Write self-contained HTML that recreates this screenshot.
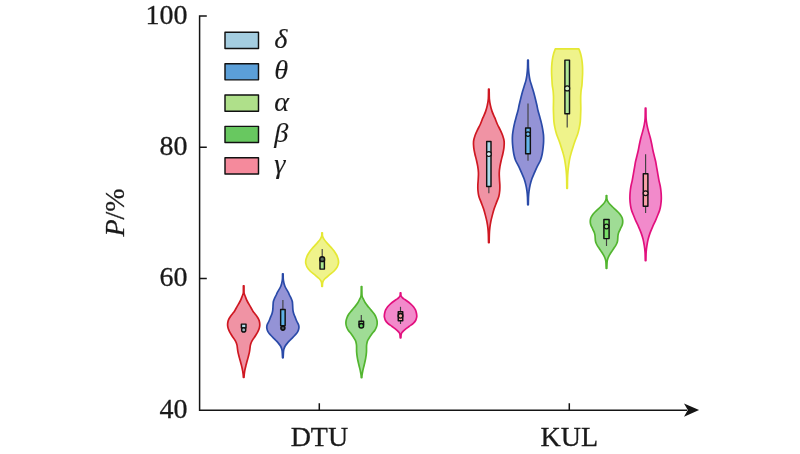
<!DOCTYPE html>
<html><head><meta charset="utf-8"><title>Violin plot</title>
<style>
html,body{margin:0;padding:0;background:#fff;}
body{width:800px;height:454px;overflow:hidden;}
svg{display:block;}
text{font-family:"Liberation Serif","DejaVu Serif",serif;fill:#1a1a1a;stroke:#1a1a1a;stroke-width:0.3px;}
#legend text{stroke-width:0.12px;}
</style></head><body>
<svg width="800" height="454" viewBox="0 0 800 454">
<rect width="800" height="454" fill="#fff"/>
<g id="violins">
<path d="M244.00,285.80C244.00,286.50 243.97,288.73 244.00,290.00C244.03,291.27 243.93,292.32 244.15,293.40C244.37,294.48 244.91,295.47 245.30,296.50C245.69,297.53 246.03,298.56 246.50,299.60C246.97,300.64 247.53,301.70 248.10,302.75C248.67,303.80 249.35,304.86 249.95,305.90C250.55,306.94 251.17,308.07 251.70,309.00C252.22,309.93 252.67,310.82 253.10,311.50C253.53,312.18 253.68,312.31 254.30,313.10C254.92,313.89 256.07,315.20 256.80,316.25C257.53,317.30 258.23,318.36 258.70,319.40C259.17,320.44 259.42,321.47 259.60,322.50C259.77,323.53 259.83,324.56 259.75,325.60C259.67,326.64 259.43,327.70 259.10,328.75C258.77,329.80 258.28,330.86 257.75,331.90C257.22,332.94 256.47,334.07 255.90,335.00C255.32,335.93 254.77,336.82 254.30,337.50C253.83,338.18 253.59,338.31 253.10,339.10C252.61,339.89 251.81,341.20 251.35,342.25C250.89,343.30 250.58,344.36 250.35,345.40C250.12,346.44 250.09,347.47 249.95,348.50C249.81,349.53 249.69,350.56 249.50,351.60C249.31,352.64 249.05,353.70 248.80,354.75C248.55,355.80 248.28,356.86 248.00,357.90C247.72,358.94 247.36,360.07 247.10,361.00C246.84,361.93 246.64,362.77 246.45,363.50C246.26,364.23 246.16,364.57 245.95,365.40C245.74,366.23 245.42,367.47 245.20,368.50C244.97,369.53 244.77,370.56 244.60,371.60C244.43,372.64 244.30,373.77 244.20,374.75C244.10,375.73 244.03,377.04 244.00,377.50L243.40,377.50C243.37,377.04 243.30,375.73 243.20,374.75C243.10,373.77 242.97,372.64 242.80,371.60C242.63,370.56 242.42,369.53 242.20,368.50C241.97,367.47 241.66,366.23 241.45,365.40C241.24,364.57 241.14,364.23 240.95,363.50C240.76,362.77 240.56,361.93 240.30,361.00C240.04,360.07 239.68,358.94 239.40,357.90C239.12,356.86 238.85,355.80 238.60,354.75C238.35,353.70 238.09,352.64 237.90,351.60C237.71,350.56 237.59,349.53 237.45,348.50C237.31,347.47 237.28,346.44 237.05,345.40C236.82,344.36 236.51,343.30 236.05,342.25C235.59,341.20 234.79,339.89 234.30,339.10C233.81,338.31 233.57,338.18 233.10,337.50C232.63,336.82 232.07,335.93 231.50,335.00C230.93,334.07 230.18,332.94 229.65,331.90C229.12,330.86 228.63,329.80 228.30,328.75C227.97,327.70 227.73,326.64 227.65,325.60C227.57,324.56 227.62,323.53 227.80,322.50C227.97,321.47 228.23,320.44 228.70,319.40C229.17,318.36 229.87,317.30 230.60,316.25C231.33,315.20 232.48,313.89 233.10,313.10C233.72,312.31 233.87,312.18 234.30,311.50C234.73,310.82 235.17,309.93 235.70,309.00C236.22,308.07 236.85,306.94 237.45,305.90C238.05,304.86 238.72,303.80 239.30,302.75C239.87,301.70 240.43,300.64 240.90,299.60C241.37,298.56 241.71,297.53 242.10,296.50C242.49,295.47 243.03,294.48 243.25,293.40C243.47,292.32 243.37,291.27 243.40,290.00C243.42,288.73 243.40,286.50 243.40,285.80Z" fill="#f093a4" stroke="#cf1822" stroke-width="1.7" stroke-linejoin="round"/>
<path d="M283.15,273.90C283.19,274.92 283.07,277.93 283.36,280.00C283.65,282.07 284.05,284.20 284.90,286.30C285.75,288.40 287.69,291.15 288.45,292.60C289.21,294.05 289.02,294.08 289.45,295.00C289.88,295.92 290.58,297.06 291.05,298.10C291.52,299.14 291.99,300.20 292.25,301.25C292.51,302.30 292.52,303.36 292.60,304.40C292.68,305.44 292.68,306.47 292.75,307.50C292.82,308.53 292.83,309.56 293.00,310.60C293.17,311.64 293.41,312.70 293.75,313.75C294.09,314.80 294.63,315.86 295.05,316.90C295.47,317.94 295.90,319.15 296.25,320.00C296.60,320.85 296.78,321.23 297.15,322.00C297.52,322.77 298.15,323.72 298.45,324.60C298.75,325.48 298.95,326.42 298.95,327.30C298.95,328.18 298.75,329.02 298.45,329.90C298.15,330.78 297.73,331.72 297.15,332.60C296.57,333.48 295.74,334.32 294.95,335.20C294.16,336.07 293.27,336.97 292.40,337.85C291.53,338.73 290.59,339.62 289.75,340.50C288.91,341.38 288.08,342.22 287.35,343.10C286.62,343.98 285.88,344.92 285.35,345.80C284.82,346.68 284.45,347.53 284.15,348.40C283.85,349.27 283.72,349.43 283.55,351.00C283.38,352.57 283.22,356.67 283.15,357.80L282.55,357.80C282.48,356.67 282.32,352.57 282.15,351.00C281.98,349.43 281.85,349.27 281.55,348.40C281.25,347.53 280.88,346.68 280.35,345.80C279.82,344.92 279.08,343.98 278.35,343.10C277.62,342.22 276.79,341.38 275.95,340.50C275.11,339.62 274.17,338.73 273.30,337.85C272.43,336.97 271.54,336.07 270.75,335.20C269.96,334.32 269.13,333.48 268.55,332.60C267.97,331.72 267.55,330.78 267.25,329.90C266.95,329.02 266.75,328.18 266.75,327.30C266.75,326.42 266.95,325.48 267.25,324.60C267.55,323.72 268.18,322.77 268.55,322.00C268.92,321.23 269.10,320.85 269.45,320.00C269.80,319.15 270.23,317.94 270.65,316.90C271.07,315.86 271.61,314.80 271.95,313.75C272.29,312.70 272.53,311.64 272.70,310.60C272.87,309.56 272.88,308.53 272.95,307.50C273.02,306.47 273.02,305.44 273.10,304.40C273.18,303.36 273.19,302.30 273.45,301.25C273.71,300.20 274.18,299.14 274.65,298.10C275.12,297.06 275.82,295.92 276.25,295.00C276.68,294.08 276.49,294.05 277.25,292.60C278.01,291.15 279.95,288.40 280.80,286.30C281.65,284.20 282.05,282.07 282.34,280.00C282.63,277.93 282.51,274.92 282.55,273.90Z" fill="#9493d6" stroke="#2a4aa8" stroke-width="1.7" stroke-linejoin="round"/>
<path d="M322.40,232.90C322.43,233.46 322.27,235.17 322.55,236.25C322.83,237.33 323.43,238.36 324.10,239.40C324.78,240.44 325.72,241.47 326.60,242.50C327.48,243.53 328.46,244.56 329.40,245.60C330.34,246.64 331.36,247.70 332.25,248.75C333.14,249.80 334.02,250.86 334.75,251.90C335.48,252.94 336.12,254.07 336.60,255.00C337.08,255.93 337.32,256.71 337.60,257.50C337.88,258.29 338.15,259.07 338.30,259.75C338.45,260.43 338.48,260.98 338.50,261.60C338.52,262.23 338.63,262.57 338.40,263.50C338.17,264.43 337.82,265.95 337.10,267.20C336.38,268.45 335.35,269.75 334.10,271.00C332.85,272.25 331.10,273.45 329.60,274.70C328.10,275.95 326.13,277.50 325.10,278.50C324.07,279.50 323.82,279.95 323.40,280.70C322.98,281.45 322.77,282.05 322.60,283.00C322.43,283.95 322.43,285.83 322.40,286.40L321.80,286.40C321.77,285.83 321.77,283.95 321.60,283.00C321.43,282.05 321.22,281.45 320.80,280.70C320.38,279.95 320.13,279.50 319.10,278.50C318.07,277.50 316.10,275.95 314.60,274.70C313.10,273.45 311.35,272.25 310.10,271.00C308.85,269.75 307.82,268.45 307.10,267.20C306.38,265.95 306.03,264.43 305.80,263.50C305.57,262.57 305.68,262.23 305.70,261.60C305.72,260.98 305.75,260.43 305.90,259.75C306.05,259.07 306.32,258.29 306.60,257.50C306.88,256.71 307.12,255.93 307.60,255.00C308.08,254.07 308.73,252.94 309.45,251.90C310.18,250.86 311.06,249.80 311.95,248.75C312.84,247.70 313.86,246.64 314.80,245.60C315.74,244.56 316.72,243.53 317.60,242.50C318.48,241.47 319.43,240.44 320.10,239.40C320.78,238.36 321.37,237.33 321.65,236.25C321.93,235.17 321.78,233.46 321.80,232.90Z" fill="#eff38b" stroke="#e5e834" stroke-width="1.7" stroke-linejoin="round"/>
<path d="M361.85,286.60C361.85,287.17 361.83,288.56 361.85,290.00C361.88,291.44 361.88,294.00 362.00,295.25C362.12,296.50 362.27,296.77 362.55,297.50C362.83,298.23 363.20,298.73 363.65,299.60C364.10,300.48 364.60,301.70 365.25,302.75C365.90,303.80 366.73,304.86 367.55,305.90C368.37,306.94 369.37,308.07 370.15,309.00C370.93,309.93 371.52,310.58 372.25,311.50C372.98,312.42 373.90,313.47 374.55,314.50C375.20,315.53 375.73,316.62 376.15,317.70C376.57,318.78 376.88,319.95 377.05,321.00C377.22,322.05 377.25,323.00 377.15,324.00C377.05,325.00 376.83,325.95 376.45,327.00C376.07,328.05 375.53,329.25 374.85,330.30C374.17,331.35 373.47,331.75 372.35,333.30C371.23,334.85 369.03,338.07 368.15,339.60C367.27,341.13 367.32,341.47 367.05,342.50C366.78,343.53 366.65,344.20 366.55,345.80C366.45,347.40 366.60,350.00 366.45,352.10C366.30,354.20 366.02,356.30 365.65,358.40C365.28,360.50 364.73,362.60 364.25,364.70C363.77,366.80 363.12,369.28 362.75,371.00C362.38,372.72 362.20,373.88 362.05,375.00C361.90,376.12 361.88,377.25 361.85,377.70L361.25,377.70C361.22,377.25 361.20,376.12 361.05,375.00C360.90,373.88 360.72,372.72 360.35,371.00C359.98,369.28 359.33,366.80 358.85,364.70C358.37,362.60 357.82,360.50 357.45,358.40C357.08,356.30 356.80,354.20 356.65,352.10C356.50,350.00 356.65,347.40 356.55,345.80C356.45,344.20 356.32,343.53 356.05,342.50C355.78,341.47 355.83,341.13 354.95,339.60C354.07,338.07 351.87,334.85 350.75,333.30C349.63,331.75 348.93,331.35 348.25,330.30C347.57,329.25 347.03,328.05 346.65,327.00C346.27,325.95 346.05,325.00 345.95,324.00C345.85,323.00 345.88,322.05 346.05,321.00C346.22,319.95 346.53,318.78 346.95,317.70C347.37,316.62 347.90,315.53 348.55,314.50C349.20,313.47 350.12,312.42 350.85,311.50C351.58,310.58 352.17,309.93 352.95,309.00C353.73,308.07 354.73,306.94 355.55,305.90C356.37,304.86 357.20,303.80 357.85,302.75C358.50,301.70 359.00,300.48 359.45,299.60C359.90,298.73 360.27,298.23 360.55,297.50C360.83,296.77 360.98,296.50 361.10,295.25C361.22,294.00 361.23,291.44 361.25,290.00C361.27,288.56 361.25,287.17 361.25,286.60Z" fill="#9fdc95" stroke="#52b52f" stroke-width="1.7" stroke-linejoin="round"/>
<path d="M400.85,292.95C400.85,293.21 400.80,293.98 400.85,294.50C400.90,295.02 400.93,295.62 401.15,296.10C401.37,296.58 401.72,296.93 402.15,297.40C402.58,297.87 403.07,298.38 403.75,298.90C404.43,299.42 405.15,299.72 406.25,300.50C407.35,301.28 409.15,302.56 410.35,303.60C411.55,304.64 412.60,305.70 413.45,306.75C414.30,307.80 414.96,308.86 415.45,309.90C415.94,310.94 416.18,312.07 416.40,313.00C416.62,313.93 416.70,314.82 416.75,315.50C416.80,316.18 416.87,316.31 416.70,317.10C416.53,317.89 416.32,319.20 415.75,320.25C415.18,321.30 414.37,322.36 413.25,323.40C412.13,324.44 410.43,325.47 409.05,326.50C407.67,327.53 406.07,328.67 404.95,329.60C403.83,330.53 402.97,331.37 402.35,332.10C401.73,332.83 401.50,333.02 401.25,334.00C401.00,334.98 400.92,337.33 400.85,338.00L400.25,338.00C400.18,337.33 400.10,334.98 399.85,334.00C399.60,333.02 399.37,332.83 398.75,332.10C398.13,331.37 397.27,330.53 396.15,329.60C395.03,328.67 393.43,327.53 392.05,326.50C390.67,325.47 388.97,324.44 387.85,323.40C386.73,322.36 385.93,321.30 385.35,320.25C384.78,319.20 384.57,317.89 384.40,317.10C384.23,316.31 384.30,316.18 384.35,315.50C384.40,314.82 384.48,313.93 384.70,313.00C384.92,312.07 385.16,310.94 385.65,309.90C386.14,308.86 386.80,307.80 387.65,306.75C388.50,305.70 389.55,304.64 390.75,303.60C391.95,302.56 393.75,301.28 394.85,300.50C395.95,299.72 396.67,299.42 397.35,298.90C398.03,298.38 398.52,297.87 398.95,297.40C399.38,296.93 399.73,296.58 399.95,296.10C400.17,295.62 400.20,295.02 400.25,294.50C400.30,293.98 400.25,293.21 400.25,292.95Z" fill="#f28acb" stroke="#e2107e" stroke-width="1.7" stroke-linejoin="round"/>
<path d="M489.15,89.20C489.19,90.80 489.16,96.15 489.36,98.80C489.56,101.45 489.90,103.00 490.35,105.10C490.80,107.20 491.32,109.30 492.05,111.40C492.78,113.50 493.88,115.60 494.75,117.70C495.62,119.80 496.30,121.90 497.25,124.00C498.20,126.10 499.55,128.38 500.45,130.30C501.35,132.22 502.03,133.67 502.65,135.50C503.27,137.33 503.93,139.28 504.15,141.30C504.37,143.32 504.17,145.52 503.95,147.60C503.73,149.68 503.30,151.72 502.85,153.80C502.40,155.88 501.73,158.00 501.25,160.10C500.77,162.20 500.28,164.30 499.95,166.40C499.62,168.50 499.33,170.60 499.25,172.70C499.17,174.80 499.35,176.90 499.45,179.00C499.55,181.10 499.80,183.38 499.85,185.30C499.90,187.22 499.92,188.67 499.75,190.50C499.58,192.33 499.40,194.28 498.85,196.30C498.30,198.32 497.23,200.52 496.45,202.60C495.67,204.68 494.83,206.72 494.15,208.80C493.47,210.88 492.90,213.00 492.35,215.10C491.80,217.20 491.27,219.30 490.85,221.40C490.43,223.50 490.10,225.60 489.85,227.70C489.60,229.80 489.47,231.50 489.35,234.00C489.23,236.50 489.18,241.25 489.15,242.70L488.55,242.70C488.52,241.25 488.47,236.50 488.35,234.00C488.23,231.50 488.10,229.80 487.85,227.70C487.60,225.60 487.27,223.50 486.85,221.40C486.43,219.30 485.90,217.20 485.35,215.10C484.80,213.00 484.23,210.88 483.55,208.80C482.87,206.72 482.03,204.68 481.25,202.60C480.47,200.52 479.40,198.32 478.85,196.30C478.30,194.28 478.12,192.33 477.95,190.50C477.78,188.67 477.80,187.22 477.85,185.30C477.90,183.38 478.15,181.10 478.25,179.00C478.35,176.90 478.53,174.80 478.45,172.70C478.37,170.60 478.08,168.50 477.75,166.40C477.42,164.30 476.93,162.20 476.45,160.10C475.97,158.00 475.30,155.88 474.85,153.80C474.40,151.72 473.97,149.68 473.75,147.60C473.53,145.52 473.33,143.32 473.55,141.30C473.77,139.28 474.43,137.33 475.05,135.50C475.67,133.67 476.35,132.22 477.25,130.30C478.15,128.38 479.50,126.10 480.45,124.00C481.40,121.90 482.08,119.80 482.95,117.70C483.82,115.60 484.92,113.50 485.65,111.40C486.38,109.30 486.90,107.20 487.35,105.10C487.80,103.00 488.14,101.45 488.34,98.80C488.54,96.15 488.51,90.80 488.55,89.20Z" fill="#f093a4" stroke="#cf1822" stroke-width="1.7" stroke-linejoin="round"/>
<path d="M528.30,60.10C528.32,61.35 528.33,65.32 528.44,67.60C528.55,69.88 528.69,71.72 528.95,73.80C529.21,75.88 529.49,78.00 529.98,80.10C530.47,82.20 531.26,84.30 531.90,86.40C532.54,88.50 533.22,90.60 533.80,92.70C534.38,94.80 534.88,96.90 535.40,99.00C535.92,101.10 536.47,103.38 536.90,105.30C537.33,107.22 537.55,108.67 538.00,110.50C538.45,112.33 539.05,114.28 539.60,116.30C540.15,118.32 540.80,120.52 541.30,122.60C541.80,124.68 542.23,126.72 542.60,128.80C542.97,130.88 543.33,133.00 543.50,135.10C543.67,137.20 543.67,139.30 543.60,141.40C543.53,143.50 543.33,145.60 543.10,147.70C542.87,149.80 542.63,151.92 542.20,154.00C541.77,156.08 541.32,158.13 540.50,160.20C539.68,162.27 538.30,164.33 537.30,166.40C536.30,168.47 535.40,170.53 534.50,172.60C533.60,174.67 532.63,176.72 531.90,178.80C531.17,180.88 530.58,183.00 530.10,185.10C529.62,187.20 529.27,189.42 529.00,191.40C528.73,193.38 528.62,194.77 528.50,197.00C528.38,199.23 528.33,203.50 528.30,204.80L527.70,204.80C527.67,203.50 527.62,199.23 527.50,197.00C527.38,194.77 527.27,193.38 527.00,191.40C526.73,189.42 526.38,187.20 525.90,185.10C525.42,183.00 524.83,180.88 524.10,178.80C523.37,176.72 522.40,174.67 521.50,172.60C520.60,170.53 519.70,168.47 518.70,166.40C517.70,164.33 516.32,162.27 515.50,160.20C514.68,158.13 514.23,156.08 513.80,154.00C513.37,151.92 513.13,149.80 512.90,147.70C512.67,145.60 512.47,143.50 512.40,141.40C512.33,139.30 512.33,137.20 512.50,135.10C512.67,133.00 513.03,130.88 513.40,128.80C513.77,126.72 514.20,124.68 514.70,122.60C515.20,120.52 515.85,118.32 516.40,116.30C516.95,114.28 517.55,112.33 518.00,110.50C518.45,108.67 518.67,107.22 519.10,105.30C519.53,103.38 520.08,101.10 520.60,99.00C521.12,96.90 521.62,94.80 522.20,92.70C522.78,90.60 523.46,88.50 524.10,86.40C524.74,84.30 525.53,82.20 526.02,80.10C526.51,78.00 526.79,75.88 527.05,73.80C527.31,71.72 527.45,69.88 527.56,67.60C527.67,65.32 527.68,61.35 527.70,60.10Z" fill="#9493d6" stroke="#2a4aa8" stroke-width="1.7" stroke-linejoin="round"/>
<path d="M578.90,48.90C579.18,49.72 580.10,51.93 580.60,53.80C581.10,55.67 581.58,58.00 581.90,60.10C582.22,62.20 582.38,64.30 582.50,66.40C582.62,68.50 582.63,70.60 582.60,72.70C582.57,74.80 582.42,76.90 582.30,79.00C582.18,81.10 582.10,83.38 581.90,85.30C581.70,87.22 581.30,88.67 581.10,90.50C580.90,92.33 580.77,94.28 580.70,96.30C580.63,98.32 580.68,100.52 580.70,102.60C580.72,104.68 580.82,106.72 580.80,108.80C580.78,110.88 580.68,113.00 580.60,115.10C580.52,117.20 580.52,119.30 580.30,121.40C580.08,123.50 579.73,125.60 579.30,127.70C578.87,129.80 578.37,131.90 577.70,134.00C577.03,136.10 576.05,138.23 575.30,140.30C574.55,142.37 573.87,144.35 573.20,146.40C572.53,148.45 571.88,150.53 571.30,152.60C570.72,154.67 570.13,156.72 569.70,158.80C569.27,160.88 568.99,163.00 568.70,165.10C568.41,167.20 568.14,169.25 567.95,171.40C567.76,173.55 567.64,175.18 567.55,178.00C567.46,180.82 567.42,186.58 567.40,188.30L566.80,188.30C566.78,186.58 566.74,180.82 566.65,178.00C566.56,175.18 566.44,173.55 566.25,171.40C566.06,169.25 565.79,167.20 565.50,165.10C565.21,163.00 564.93,160.88 564.50,158.80C564.07,156.72 563.48,154.67 562.90,152.60C562.32,150.53 561.67,148.45 561.00,146.40C560.33,144.35 559.65,142.37 558.90,140.30C558.15,138.23 557.17,136.10 556.50,134.00C555.83,131.90 555.33,129.80 554.90,127.70C554.47,125.60 554.12,123.50 553.90,121.40C553.68,119.30 553.68,117.20 553.60,115.10C553.52,113.00 553.42,110.88 553.40,108.80C553.38,106.72 553.48,104.68 553.50,102.60C553.52,100.52 553.57,98.32 553.50,96.30C553.43,94.28 553.30,92.33 553.10,90.50C552.90,88.67 552.50,87.22 552.30,85.30C552.10,83.38 552.02,81.10 551.90,79.00C551.78,76.90 551.63,74.80 551.60,72.70C551.57,70.60 551.58,68.50 551.70,66.40C551.82,64.30 551.98,62.20 552.30,60.10C552.62,58.00 553.10,55.67 553.60,53.80C554.10,51.93 555.02,49.72 555.30,48.90Z" fill="#eff38b" stroke="#e5e834" stroke-width="1.7" stroke-linejoin="round"/>
<path d="M606.80,195.50C606.82,196.08 606.71,197.97 606.90,199.00C607.09,200.03 607.45,200.82 607.95,201.70C608.45,202.58 609.12,203.42 609.90,204.30C610.67,205.18 611.67,206.12 612.60,207.00C613.53,207.88 614.57,208.72 615.50,209.60C616.43,210.47 617.37,211.37 618.20,212.25C619.03,213.13 619.87,214.03 620.50,214.90C621.13,215.78 621.64,216.62 622.00,217.50C622.36,218.38 622.54,219.32 622.65,220.20C622.76,221.08 622.76,221.92 622.65,222.80C622.54,223.68 622.33,224.62 622.00,225.50C621.67,226.38 621.08,227.28 620.70,228.10C620.32,228.92 620.03,229.65 619.70,230.40C619.37,231.15 618.98,231.78 618.70,232.60C618.42,233.42 618.15,234.42 618.00,235.30C617.85,236.18 617.87,237.02 617.80,237.90C617.73,238.78 617.76,239.72 617.60,240.60C617.44,241.48 617.20,242.32 616.85,243.20C616.50,244.07 616.02,244.97 615.50,245.85C614.98,246.73 614.33,247.62 613.75,248.50C613.17,249.38 612.58,250.22 612.00,251.10C611.42,251.98 610.79,252.92 610.25,253.80C609.71,254.68 609.17,255.53 608.75,256.40C608.33,257.27 607.98,258.12 607.70,259.00C607.43,259.88 607.25,260.12 607.10,261.70C606.95,263.28 606.85,267.37 606.80,268.50L606.20,268.50C606.15,267.37 606.05,263.28 605.90,261.70C605.75,260.12 605.57,259.88 605.30,259.00C605.02,258.12 604.67,257.27 604.25,256.40C603.83,255.53 603.29,254.68 602.75,253.80C602.21,252.92 601.58,251.98 601.00,251.10C600.42,250.22 599.83,249.38 599.25,248.50C598.67,247.62 598.02,246.73 597.50,245.85C596.98,244.97 596.50,244.07 596.15,243.20C595.80,242.32 595.56,241.48 595.40,240.60C595.24,239.72 595.27,238.78 595.20,237.90C595.13,237.02 595.15,236.18 595.00,235.30C594.85,234.42 594.58,233.42 594.30,232.60C594.02,231.78 593.63,231.15 593.30,230.40C592.97,229.65 592.68,228.92 592.30,228.10C591.92,227.28 591.33,226.38 591.00,225.50C590.67,224.62 590.46,223.68 590.35,222.80C590.24,221.92 590.24,221.08 590.35,220.20C590.46,219.32 590.64,218.38 591.00,217.50C591.36,216.62 591.87,215.78 592.50,214.90C593.13,214.03 593.97,213.13 594.80,212.25C595.63,211.37 596.57,210.47 597.50,209.60C598.43,208.72 599.47,207.88 600.40,207.00C601.33,206.12 602.33,205.18 603.10,204.30C603.88,203.42 604.55,202.58 605.05,201.70C605.55,200.82 605.91,200.03 606.10,199.00C606.29,197.97 606.18,196.08 606.20,195.50Z" fill="#9fdc95" stroke="#52b52f" stroke-width="1.7" stroke-linejoin="round"/>
<path d="M645.90,108.00C645.93,109.80 645.93,115.95 646.11,118.80C646.29,121.65 646.60,123.00 647.00,125.10C647.40,127.20 647.95,129.30 648.50,131.40C649.05,133.50 649.77,135.60 650.30,137.70C650.83,139.80 651.27,141.90 651.70,144.00C652.13,146.10 652.48,148.35 652.90,150.30C653.32,152.25 653.75,153.87 654.20,155.70C654.65,157.53 655.18,159.32 655.60,161.30C656.02,163.28 656.33,165.52 656.70,167.60C657.07,169.68 657.43,171.72 657.80,173.80C658.17,175.88 658.48,178.00 658.90,180.10C659.32,182.20 659.93,184.30 660.30,186.40C660.67,188.50 660.93,190.60 661.10,192.70C661.27,194.80 661.37,196.90 661.30,199.00C661.23,201.10 660.97,203.47 660.70,205.30C660.43,207.13 660.13,208.50 659.70,210.00C659.27,211.50 658.80,212.53 658.10,214.30C657.40,216.07 656.42,218.52 655.50,220.60C654.58,222.68 653.52,224.72 652.60,226.80C651.68,228.88 650.75,231.00 650.00,233.10C649.25,235.20 648.62,237.30 648.10,239.40C647.58,241.50 647.23,243.60 646.90,245.70C646.57,247.80 646.32,249.50 646.15,252.00C645.98,254.50 645.94,259.25 645.90,260.70L645.30,260.70C645.26,259.25 645.22,254.50 645.05,252.00C644.88,249.50 644.63,247.80 644.30,245.70C643.98,243.60 643.62,241.50 643.10,239.40C642.58,237.30 641.95,235.20 641.20,233.10C640.45,231.00 639.52,228.88 638.60,226.80C637.68,224.72 636.62,222.68 635.70,220.60C634.78,218.52 633.80,216.07 633.10,214.30C632.40,212.53 631.93,211.50 631.50,210.00C631.07,208.50 630.77,207.13 630.50,205.30C630.23,203.47 629.97,201.10 629.90,199.00C629.83,196.90 629.93,194.80 630.10,192.70C630.27,190.60 630.53,188.50 630.90,186.40C631.27,184.30 631.88,182.20 632.30,180.10C632.72,178.00 633.03,175.88 633.40,173.80C633.77,171.72 634.13,169.68 634.50,167.60C634.87,165.52 635.18,163.28 635.60,161.30C636.02,159.32 636.55,157.53 637.00,155.70C637.45,153.87 637.88,152.25 638.30,150.30C638.72,148.35 639.07,146.10 639.50,144.00C639.93,141.90 640.37,139.80 640.90,137.70C641.43,135.60 642.15,133.50 642.70,131.40C643.25,129.30 643.80,127.20 644.20,125.10C644.60,123.00 644.91,121.65 645.09,118.80C645.27,115.95 645.27,109.80 645.30,108.00Z" fill="#f28acb" stroke="#e2107e" stroke-width="1.7" stroke-linejoin="round"/>
</g>
<g id="boxes">
<line x1="243.70" y1="324.10" x2="243.70" y2="328.00" stroke="#404040" stroke-width="1.15"/>
<rect x="241.40" y="324.10" width="4.60" height="3.90" fill="#b4deec" stroke="#111" stroke-width="1.45" stroke-linejoin="round"/>
<circle cx="243.70" cy="329.90" r="2.10" fill="#9bb5c0" stroke="#111" stroke-width="1.40"/>
<line x1="282.90" y1="300.10" x2="282.90" y2="325.60" stroke="#404040" stroke-width="1.15"/>
<rect x="280.65" y="309.50" width="4.50" height="16.10" fill="#5eb0e6" stroke="#111" stroke-width="1.45" stroke-linejoin="round"/>
<circle cx="282.90" cy="328.10" r="2.00" fill="#4a5560" stroke="#111" stroke-width="1.60"/>
<line x1="322.20" y1="249.00" x2="322.20" y2="269.10" stroke="#404040" stroke-width="1.15"/>
<rect x="320.00" y="260.00" width="4.40" height="9.10" fill="#a8e890" stroke="#111" stroke-width="1.45" stroke-linejoin="round"/>
<circle cx="322.20" cy="259.20" r="2.40" fill="#5a7060" stroke="#111" stroke-width="1.50"/>
<line x1="361.30" y1="315.00" x2="361.30" y2="324.50" stroke="#404040" stroke-width="1.15"/>
<rect x="359.00" y="321.20" width="4.60" height="3.30" fill="#80dc70" stroke="#111" stroke-width="1.45" stroke-linejoin="round"/>
<circle cx="361.30" cy="325.80" r="2.30" fill="#5fd35f" stroke="#111" stroke-width="1.50"/>
<line x1="400.50" y1="306.80" x2="400.50" y2="324.00" stroke="#404040" stroke-width="1.15"/>
<rect x="398.25" y="311.70" width="4.50" height="9.10" fill="#f8a0a8" stroke="#111" stroke-width="1.45" stroke-linejoin="round"/>
<circle cx="400.50" cy="315.80" r="2.30" fill="#f8a0a0" stroke="#111" stroke-width="1.40"/>
<line x1="488.85" y1="141.40" x2="488.85" y2="193.20" stroke="#404040" stroke-width="1.15"/>
<rect x="486.70" y="141.40" width="4.30" height="45.10" fill="#acdaea" stroke="#111" stroke-width="1.45" stroke-linejoin="round"/>
<circle cx="488.85" cy="154.10" r="2.40" fill="#d8eef6" stroke="#111" stroke-width="1.20"/>
<line x1="528.00" y1="103.40" x2="528.00" y2="160.80" stroke="#404040" stroke-width="1.15"/>
<rect x="525.65" y="127.90" width="4.70" height="25.90" fill="#62b4ea" stroke="#111" stroke-width="1.45" stroke-linejoin="round"/>
<circle cx="528.00" cy="134.10" r="2.20" fill="#6cbcf0" stroke="#111" stroke-width="1.20"/>
<line x1="567.20" y1="60.10" x2="567.20" y2="127.50" stroke="#404040" stroke-width="1.15"/>
<rect x="564.90" y="60.10" width="4.60" height="53.70" fill="#b0e898" stroke="#111" stroke-width="1.45" stroke-linejoin="round"/>
<circle cx="567.20" cy="88.40" r="2.50" fill="#d4f2c8" stroke="#111" stroke-width="1.20"/>
<line x1="606.50" y1="219.50" x2="606.50" y2="246.00" stroke="#404040" stroke-width="1.15"/>
<rect x="603.90" y="219.50" width="5.20" height="19.10" fill="#78e068" stroke="#111" stroke-width="1.45" stroke-linejoin="round"/>
<circle cx="606.50" cy="226.50" r="2.30" fill="#90e480" stroke="#111" stroke-width="1.20"/>
<line x1="645.60" y1="154.30" x2="645.60" y2="213.00" stroke="#404040" stroke-width="1.15"/>
<rect x="643.30" y="173.80" width="4.60" height="32.40" fill="#f8a0a8" stroke="#111" stroke-width="1.45" stroke-linejoin="round"/>
<circle cx="645.60" cy="193.30" r="2.40" fill="#fcb4b8" stroke="#111" stroke-width="1.20"/>
</g>
<g id="axes" stroke="#151515" stroke-width="1.5" fill="none">
<path d="M206.8,16.1H199.6V410.2H687"/>
<path d="M199.6,147.2H206.8M199.6,278.6H206.8"/>
<path d="M319.3,410.2V403.2M569.3,410.2V403.2"/>
</g>
<path d="M699.1,410.1L684,403.5L687.8,410.1L684,416.7Z" fill="#151515"/>
<g id="legend">
<rect x="225.0" y="32.30" width="33.5" height="16.2" fill="#a4cde0" stroke="#111" stroke-width="1.45" stroke-linejoin="round"/>
<text x="274.2" y="47.90" font-style="italic" font-size="28.3">δ</text>
<rect x="225.0" y="63.65" width="33.5" height="16.2" fill="#5b9fd8" stroke="#111" stroke-width="1.45" stroke-linejoin="round"/>
<text x="274.2" y="79.25" font-style="italic" font-size="28.3">θ</text>
<rect x="225.0" y="95.00" width="33.5" height="16.2" fill="#afe08a" stroke="#111" stroke-width="1.45" stroke-linejoin="round"/>
<text x="274.2" y="110.60" font-style="italic" font-size="28.3">α</text>
<rect x="225.0" y="126.35" width="33.5" height="16.2" fill="#68c860" stroke="#111" stroke-width="1.45" stroke-linejoin="round"/>
<text x="274.2" y="141.95" font-style="italic" font-size="28.3">β</text>
<rect x="225.0" y="157.70" width="33.5" height="16.2" fill="#f58a9c" stroke="#111" stroke-width="1.45" stroke-linejoin="round"/>
<text x="274.2" y="173.30" font-style="italic" font-size="28.3">γ</text>
</g>
<g id="labels" font-size="28">
<text x="187.5" y="23.8" text-anchor="end">100</text>
<text x="187.5" y="155" text-anchor="end">80</text>
<text x="187.5" y="285.5" text-anchor="end">60</text>
<text x="187.5" y="417.5" text-anchor="end">40</text>
<text x="319.4" y="445.8" text-anchor="middle">DTU</text>
<text x="569.3" y="445.8" text-anchor="middle">KUL</text>
<text transform="translate(124,212.5) rotate(-90)" text-anchor="middle"><tspan font-style="italic">P</tspan>/%</text>
</g>
</svg>
</body></html>
